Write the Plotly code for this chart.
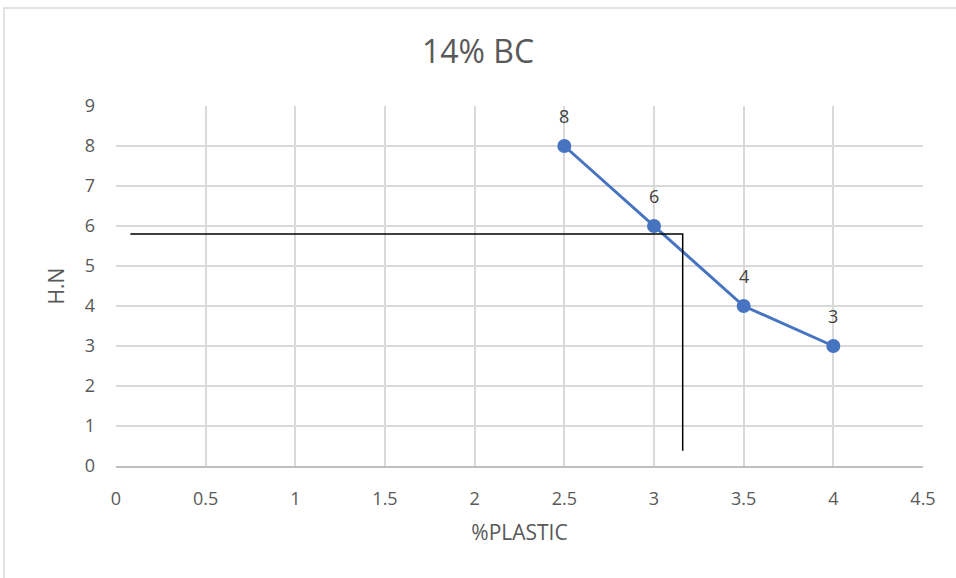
import plotly.graph_objects as go

# Data
plastic = [2.5, 3, 3.5, 4]
hn = [8, 6, 4, 3]
x_ticks = [0, 0.5, 1, 1.5, 2, 2.5, 3, 3.5, 4, 4.5]
y_ticks = list(range(10))

# Reading lines (design value)
read_y = 5.8
read_x = 3.16
read_x_start = 0.08
read_y_end = 0.38

FONT = "Open Sans"
GRAY = "#595959"
BLUE = "#4674C1"

fig = go.Figure()

fig.add_trace(go.Scatter(
    x=plastic, y=hn,
    mode="lines+markers",
    line=dict(color=BLUE, width=3),
    marker=dict(color=BLUE, size=14),
    showlegend=False,
))

# Reading lines from the curve to the axes
fig.add_trace(go.Scatter(
    x=[read_x_start, read_x, read_x],
    y=[read_y, read_y, read_y_end],
    mode="lines",
    line=dict(color="black", width=1.5),
    showlegend=False,
    hoverinfo="skip",
))

# Value labels above each point
annotations = [
    dict(x=xv, y=yv, text=str(yv), showarrow=False, yshift=30,
         font=dict(family=FONT, size=18, color="#404040"))
    for xv, yv in zip(plastic, hn)
]

fig.update_layout(
    width=956, height=578,
    margin=dict(l=116, r=33, t=106, b=112),
    paper_bgcolor="white",
    plot_bgcolor="white",
    title=dict(text="14% BC", x=0.5, xanchor="center", y=0.91, yanchor="middle",
               font=dict(family=FONT, size=32, color=GRAY)),
    font=dict(family=FONT, color=GRAY),
    annotations=annotations,
    xaxis=dict(
        range=[0, 4.5], tickvals=x_ticks, ticktext=[f"{v:g}" for v in x_ticks],
        showgrid=True, gridcolor="#D9D9D9", gridwidth=1.5,
        showline=True, linecolor="#BFBFBF", linewidth=1.5,
        zeroline=False, ticks="", ticklen=0, ticklabelstandoff=16,
        tickfont=dict(family=FONT, size=18, color=GRAY),
        title=dict(text="%PLASTIC", font=dict(family=FONT, size=21, color=GRAY), standoff=16),
    ),
    yaxis=dict(
        range=[0, 9], tickvals=y_ticks,
        showgrid=True, gridcolor="#D9D9D9", gridwidth=1.5,
        showline=False, zeroline=False, ticks="", ticklabelstandoff=20,
        tickfont=dict(family=FONT, size=18, color=GRAY),
        title=dict(text="H.N", font=dict(family=FONT, size=21, color=GRAY), standoff=14),
    ),
    shapes=[dict(
        type="rect", xref="paper", yref="paper",
        x0=(4 - 116) / 807, x1=1.2, y0=-0.5, y1=(466 - 8) / 360,
        line=dict(color="#D9D9D9", width=1.5), fillcolor="rgba(0,0,0,0)", layer="below",
    )],
)

fig.write_html("out.html")
